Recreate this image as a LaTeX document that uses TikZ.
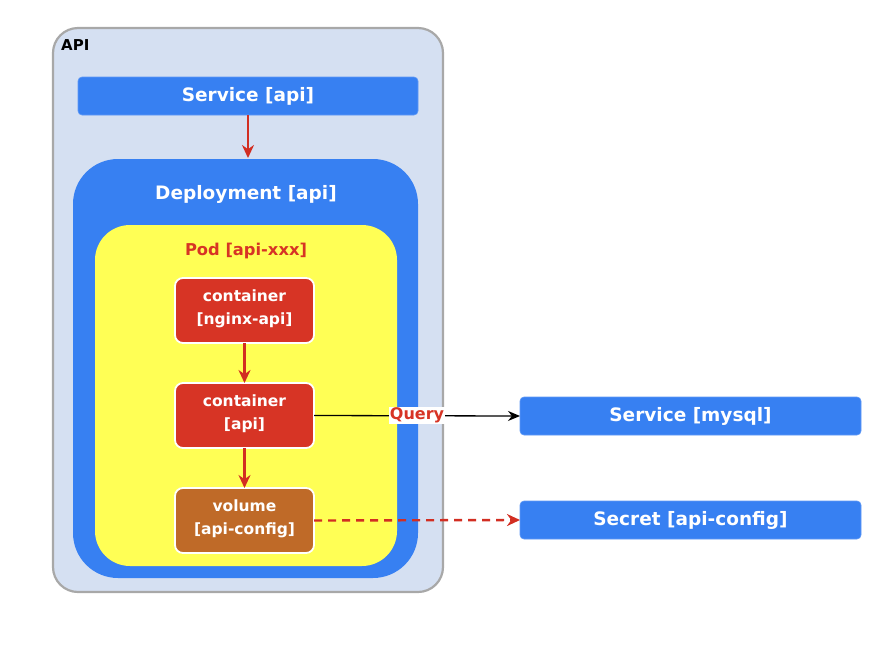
\documentclass[tikz,border=0pt]{standalone}
\usepackage{fontspec}
\setmainfont{DejaVu Sans}
\usetikzlibrary{arrows.meta}
\definecolor{bgblue}{HTML}{D5E0F2}
\definecolor{kblue}{HTML}{3780F2}
\definecolor{kyellow}{HTML}{FFFF55}
\definecolor{kred}{HTML}{D73425}
\definecolor{kbrown}{HTML}{BF6A28}
\definecolor{arrred}{HTML}{D22E22}
\definecolor{kgray}{HTML}{A8A8A8}
\tikzset{
  box/.style={anchor=north west, inner sep=0pt, outer sep=0pt, align=center, font=\bfseries},
  svc/.style={box, fill=kblue, draw=kblue!80!white, line width=0.6pt, rounded corners=4pt, text=white, font=\bfseries\fontsize{18.5}{22}\selectfont},
  ctr/.style={box, draw=white, line width=1.8pt, rounded corners=8pt, text=white, minimum width=139pt, minimum height=65pt, font=\bfseries\fontsize{15.5}{23}\selectfont},
  redarrow/.style={draw=arrred, line width=2.6pt, -{Stealth[length=13pt,width=12pt]}},
}
\begin{document}
\begin{tikzpicture}[x=1pt,y=-1pt]
\useasboundingbox (0,0) rectangle (894,654);
% outer API box
\node[box, fill=bgblue, draw=kgray, line width=2.2pt, rounded corners=25pt, minimum width=390pt, minimum height=564pt] (api) at (53,28) {};
\node[anchor=west, font=\bfseries\fontsize{15}{17}\selectfont, inner sep=0pt] (apilbl) at (61,45) {API};
% service api
\node[svc, minimum width=340pt, minimum height=38pt] (svcapi) at (78,77) {Service [api]};
% deployment
\node[box, fill=kblue, rounded corners=45pt, minimum width=345pt, minimum height=419pt] (dep) at (73,159) {};
\node[font=\bfseries\fontsize{18.5}{22}\selectfont, text=white, inner sep=0pt] (deplbl) at (246,194) {Deployment [api]};
% pod
\node[box, fill=kyellow, rounded corners=35pt, minimum width=302pt, minimum height=341pt] (pod) at (95,225) {};
\node[font=\bfseries\fontsize{16.3}{19}\selectfont, text=kred, inner sep=0pt] (podlbl) at (246,251) {Pod [api-xxx]};
% containers
\node[ctr, fill=kred] (nginx) at (175,278) {container\\{}[nginx-api]\\[-17pt]};
\node[ctr, fill=kred] (capi) at (175,383) {container\\{}[api]\\[-17pt]};
\node[ctr, fill=kbrown] (vol) at (175,488) {volume\\{}[api-config]\\[-17pt]};
% right services
\node[svc, minimum width=341pt, minimum height=38pt] (mysql) at (520,397) {Service [mysql]};
\node[svc, minimum width=341pt, minimum height=38pt] (secret) at (520,501) {Secret [api-config]};
% arrows
\draw[redarrow] (svcapi.south -| 248,0) -- (248,158);
\draw[redarrow] (nginx.south) -- (capi.north);
\draw[redarrow] (capi.south) -- (vol.north);
\draw[line width=1.3pt, -{Stealth[length=12pt,width=10pt]}] (capi.east) -- node[fill=white, inner sep=1pt, text=kred, font=\bfseries\fontsize{16}{18}\selectfont] (qlbl) {Query} (mysql.west);
\draw[draw=arrred, line width=2.4pt, dash pattern=on 8pt off 6pt, -{Stealth[length=13pt,width=12pt]}] (vol.east) -- (secret.west);
\end{tikzpicture}
\end{document}
